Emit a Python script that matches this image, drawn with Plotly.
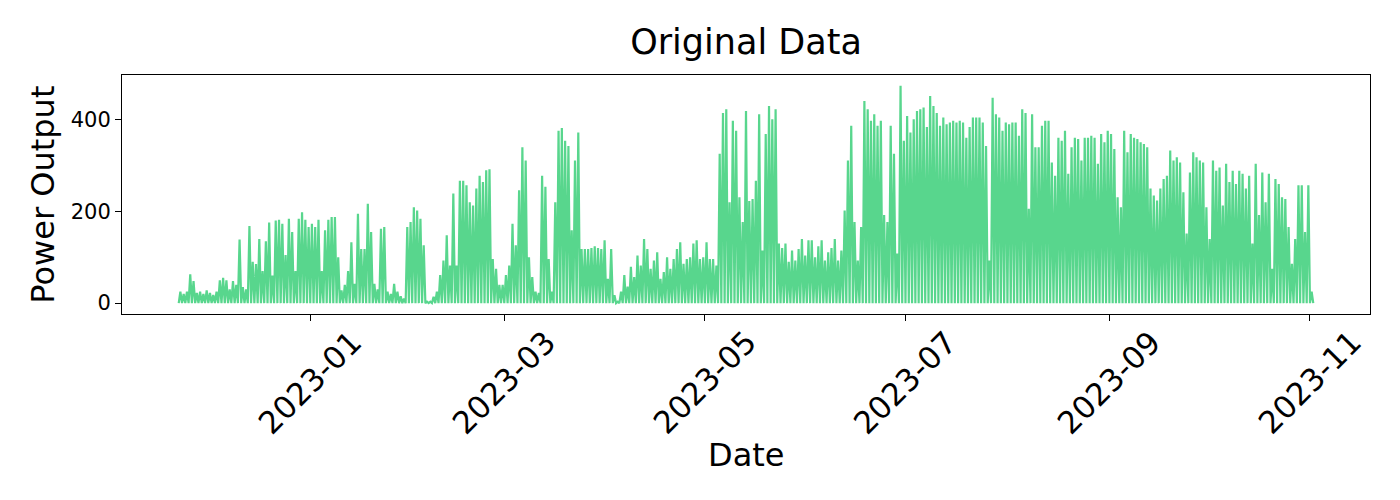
import pandas as pd
import plotly.graph_objects as go

# Daily peak power output, starting 2022-11-22
start_date = "2022-11-22"
daily_peak = [
    25, 20, 25, 63, 48, 22, 25, 20, 28, 22, 18,
    25, 50, 55, 50, 30, 48, 40, 139, 35, 30,
    168, 90, 85, 140, 70, 135, 176, 60, 180,
    182, 173, 105, 184, 155, 70, 184, 198, 182, 166, 173, 166, 182, 70, 159, 182,
    188, 188, 100, 28, 40, 70, 133, 42, 195, 118, 118, 217, 155, 42, 30, 162,
    166, 25, 20, 42, 25, 15, 10, 166, 177, 209, 202, 184, 126, 3, 3, 14,
    25, 61, 93, 148, 82, 239, 82, 267, 267, 257, 220, 213, 250, 278, 264, 290,
    292, 96, 75, 40, 40, 61, 82, 173, 126, 246, 340, 311, 100, 57, 25, 22,
    278, 254, 96, 25, 220, 376, 382, 354, 343, 159, 311, 372, 118, 118, 118,
    120, 124, 120, 118, 137, 53, 118, 17, 3, 25, 61, 36, 79, 57, 104, 82,
    140, 118, 75, 93, 111, 53, 68, 100, 75, 96, 118, 133, 86, 96, 100, 130,
    137, 96, 100, 133, 96, 96, 82, 326, 415, 423, 220, 398, 376, 231, 177, 419,
    223, 227, 267, 412, 115, 369, 430, 401, 423, 130, 120, 130, 90, 115, 93, 118,
    140, 104, 137, 137, 100, 124, 137, 93, 111, 120, 140, 93, 115, 202, 311, 387,
    177, 93, 166, 441, 423, 398, 412, 387, 398, 192, 177, 387, 326, 108, 474, 354,
    408, 372, 401, 419, 423, 427, 384, 452, 430, 415, 387, 405, 390, 394, 398, 394,
    398, 394, 361, 384, 405, 405, 405, 394, 343, 93, 448, 412, 405, 376, 394,
    390, 394, 394, 365, 423, 415, 206, 412, 340, 340, 387, 398, 398, 307, 278, 361,
    354, 376, 282, 340, 361, 358, 311, 361, 361, 365, 361, 304, 369, 351, 376, 369,
    336, 231, 209, 376, 329, 369, 361, 358, 351, 347, 340, 250, 235, 224, 250, 271,
    278, 333, 311, 318, 307, 242, 152, 285, 329, 318, 311, 307, 209, 140, 311,
    289, 296, 213, 304, 264, 289, 260, 289, 282, 250, 278, 130, 304, 192, 285, 220,
    282, 75, 271, 260, 231, 227, 166, 86, 140, 257, 257, 155, 257, 25,
]
night_value = 0

tick_dates = ["2023-01-01", "2023-03-01", "2023-05-01", "2023-07-01", "2023-09-01", "2023-11-01"]
tick_labels = ["2023-01", "2023-03", "2023-05", "2023-07", "2023-09", "2023-11"]
y_ticks = [0, 200, 400]

days = pd.date_range(start_date, periods=len(daily_peak), freq="D")
xs, ys = [], []
for d, p in zip(days, daily_peak):
    xs += [d, d + pd.Timedelta(hours=12)]
    ys += [night_value, p]
xs.append(days[-1] + pd.Timedelta(hours=24))
ys.append(night_value)

x0, x1 = xs[0], xs[-1]
span = x1 - x0
xr = [x0 - span * 0.05, x1 + span * 0.05]
ymax = max(daily_peak)
yr = [-ymax * 0.05, ymax * 1.05]

fig = go.Figure()
fig.add_trace(go.Scatter(x=xs, y=ys, mode="lines",
                         line=dict(color="#58D68D", width=2.2), showlegend=False))

font = "DejaVu Sans, Arial, sans-serif"
annotations = []
for td, tl in zip(tick_dates, tick_labels):
    annotations.append(dict(x=td, xref="x", y=-0.285, yref="paper", text=tl,
                            textangle=-45, showarrow=False, xanchor="center", yanchor="middle",
                            font=dict(size=31, color="black", family=font)))
annotations.append(dict(x=0.5, xref="paper", y=-0.59, yref="paper", text="Date",
                        showarrow=False, xanchor="center", yanchor="middle",
                        font=dict(size=32, color="black", family=font)))
annotations.append(dict(x=-0.064, xref="paper", y=0.5, yref="paper", text="Power Output",
                        textangle=-90, showarrow=False, xanchor="center", yanchor="middle",
                        font=dict(size=32, color="black", family=font)))

fig.update_layout(
    width=1400, height=500,
    margin=dict(l=114, r=38, t=67, b=194),
    paper_bgcolor="white", plot_bgcolor="white",
    title=dict(text="Original Data", x=0.5, xref="paper", y=1 - 34 / 500, yref="container",
               xanchor="center", yanchor="middle",
               font=dict(size=35, color="black", family=font)),
    font=dict(family=font, color="black"),
    annotations=annotations,
)
fig.update_xaxes(range=xr, tickvals=tick_dates, showticklabels=False,
                 ticks="outside", ticklen=6, tickcolor="black",
                 showline=True, linecolor="black", linewidth=1, mirror=True,
                 showgrid=False, zeroline=False)
fig.update_yaxes(range=yr, tickvals=y_ticks, ticktext=[str(v) for v in y_ticks],
                 ticks="outside", ticklen=6, tickcolor="black",
                 tickfont=dict(size=21, family=font, color="black"),
                 showline=True, linecolor="black", linewidth=1, mirror=True,
                 showgrid=False, zeroline=False)

fig.write_html("out.html")
